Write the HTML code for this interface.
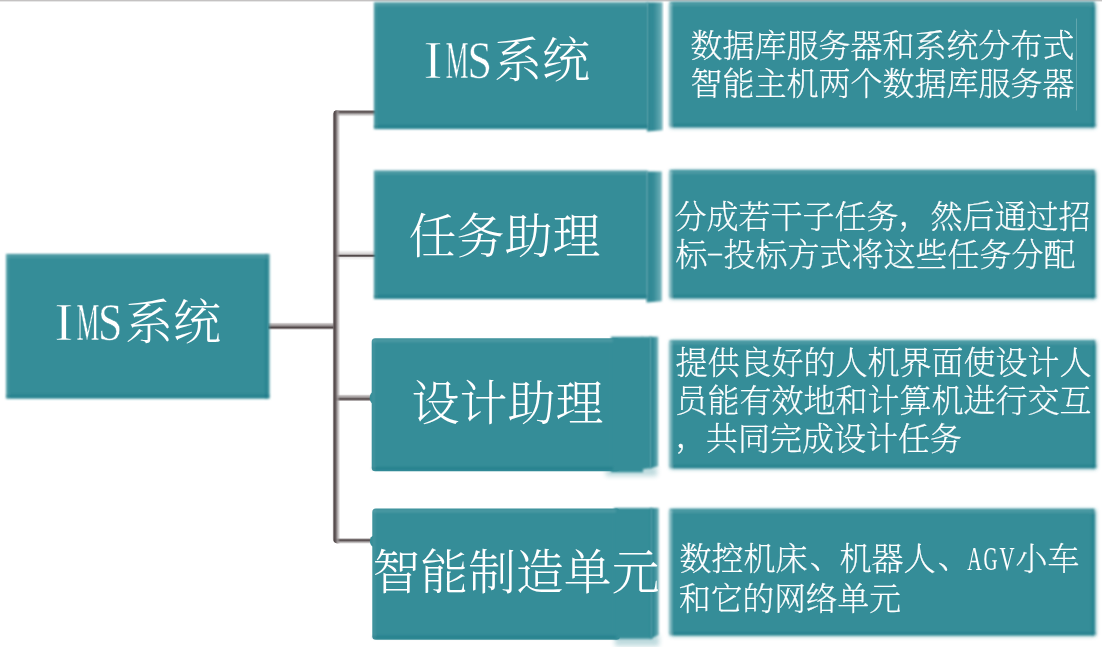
<!DOCTYPE html>
<html lang="zh-CN">
<head>
<meta charset="utf-8">
<title>IMS系统</title>
<style>
html,body{margin:0;padding:0;background:#fff;}
body{width:1102px;height:647px;overflow:hidden;position:relative;}
svg{display:block;position:absolute;left:0;top:0;}
.cj{font-family:"Liberation Serif","Noto Serif CJK SC",serif;fill:#fff;font-weight:300;}
.la{font-family:"Liberation Serif","Noto Serif CJK SC",serif;fill:#fff;font-weight:400;stroke:#358d98;stroke-width:0.5px;}
.big{font-size:48px;}
.sm{font-size:32px;font-weight:200;stroke:#fff;stroke-width:0.3px;}
</style>
</head>
<body>
<svg width="1102" height="647" viewBox="0 0 1102 647">
<defs>
<filter id="soft" x="-5%" y="-5%" width="110%" height="110%"><feGaussianBlur stdDeviation="1.1"/></filter>
<filter id="softbox" x="-5%" y="-5%" width="110%" height="112%"><feGaussianBlur in="SourceGraphic" stdDeviation="1" result="a"/><feGaussianBlur in="SourceGraphic" stdDeviation="1.9" result="b"/><feOffset in="b" dx="1.1" dy="1.1" result="c"/><feMerge><feMergeNode in="c"/><feMergeNode in="a"/></feMerge></filter>
<filter id="soft2" x="-5%" y="-5%" width="110%" height="110%"><feGaussianBlur stdDeviation="0.9"/></filter>
<filter id="softl" x="-20%" y="-20%" width="140%" height="140%"><feGaussianBlur stdDeviation="0.55"/></filter>
<filter id="softh" x="-20%" y="-20%" width="140%" height="140%"><feGaussianBlur stdDeviation="0.9"/></filter>
<filter id="shad" x="-20%" y="-60%" width="140%" height="220%"><feGaussianBlur stdDeviation="2.4"/></filter>
<clipPath id="cl"><rect x="332.800" y="110.200" width="60" height="433.200" rx="4.500"/></clipPath>
<linearGradient id="gV" x1="0" y1="0" x2="1" y2="0">
<stop offset="0" stop-color="#6b6263" stop-opacity="0"/><stop offset="0.2" stop-color="#6b6263" stop-opacity="0.8"/><stop offset="0.34" stop-color="#4f4546"/><stop offset="0.5" stop-color="#6f6667" stop-opacity="0.97"/><stop offset="0.72" stop-color="#a09a9b" stop-opacity="0.75"/><stop offset="1" stop-color="#a09a9b" stop-opacity="0"/>
</linearGradient>
<linearGradient id="gA" x1="0" y1="0" x2="0" y2="1">
<stop offset="0" stop-color="#5f5556" stop-opacity="0"/><stop offset="0.22" stop-color="#5f5556" stop-opacity="0.85"/><stop offset="0.36" stop-color="#524849"/><stop offset="0.6" stop-color="#8a8485" stop-opacity="0.8"/><stop offset="0.8" stop-color="#aaa5a5" stop-opacity="0.45"/><stop offset="1" stop-color="#aaa5a5" stop-opacity="0"/>
</linearGradient>
<linearGradient id="gB" x1="0" y1="0" x2="0" y2="1">
<stop offset="0" stop-color="#b5b0b0" stop-opacity="0"/><stop offset="0.2" stop-color="#b5b0b0" stop-opacity="0.8"/><stop offset="0.5" stop-color="#857e7f" stop-opacity="0.95"/><stop offset="0.66" stop-color="#473d3e"/><stop offset="0.82" stop-color="#5a5051" stop-opacity="0.7"/><stop offset="1" stop-color="#5a5051" stop-opacity="0"/>
</linearGradient>
<linearGradient id="gC" x1="0" y1="0" x2="0" y2="1">
<stop offset="0" stop-color="#d5d2d2" stop-opacity="0"/><stop offset="0.25" stop-color="#d5d2d2" stop-opacity="0.7"/><stop offset="0.4" stop-color="#c0bcbc" stop-opacity="0.8"/><stop offset="0.5" stop-color="#4f4647"/><stop offset="0.6" stop-color="#4f4647" stop-opacity="0.95"/><stop offset="0.72" stop-color="#d8d5d5" stop-opacity="0.5"/><stop offset="1" stop-color="#d8d5d5" stop-opacity="0"/>
</linearGradient>
<linearGradient id="strip" x1="0" y1="0" x2="1" y2="0">
<stop offset="0" stop-color="#2f8793"/><stop offset="0.45" stop-color="#348b97"/><stop offset="1" stop-color="#74b3bb"/>
</linearGradient>
</defs>
<rect x="0" y="0" width="1102" height="647" fill="#ffffff"/>
<rect x="0" y="0" width="1102" height="1.4" fill="#c4c2c2"/>

<rect x="268" y="322.300" width="67.500" height="7.600" fill="url(#gB)"/>
<g clip-path="url(#cl)">
<rect x="334" y="109.300" width="42" height="7.400" fill="url(#gA)"/>
<rect x="334" y="538" width="40" height="6.400" fill="url(#gA)"/>
<rect x="335" y="394.200" width="38" height="7.200" fill="url(#gB)"/>
<rect x="335" y="250" width="41" height="10.500" fill="url(#gC)"/>
<rect x="331.800" y="109.300" width="8.400" height="435" fill="url(#gV)"/>
</g>
<ellipse cx="373.300" cy="397.800" rx="3.600" ry="5.800" fill="#358d98" filter="url(#softl)"/>
<ellipse cx="373.500" cy="541.200" rx="3.600" ry="5.500" fill="#358d98" filter="url(#softl)"/>

<g fill="#358d98" opacity="0.32" filter="url(#shad)">
<rect x="606" y="467" width="51" height="9"/>
<rect x="615" y="635" width="44" height="11"/>
</g>
<g fill="#358d98">
<rect x="669.8" y="2" width="424.5" height="124.4" filter="url(#softbox)"/>
<rect x="669.8" y="170.2" width="424.7" height="127.2" filter="url(#softbox)"/>
<rect x="669.8" y="340.5" width="425.2" height="126.9" filter="url(#softbox)"/>
<rect x="669.8" y="509" width="424.5" height="125.5" filter="url(#softbox)"/>
</g>
<g fill="#358d98" filter="url(#softl)">
<rect x="371.7" y="338.3" width="248.3" height="132.9" rx="3.5"/>
<rect x="372.3" y="508.6" width="247.7" height="131.2" rx="3.5"/>
</g>
<g fill="#358d98" filter="url(#soft)">
<rect x="6.2" y="254" width="263.3" height="144.7"/>
<rect x="374" y="2.3" width="274" height="126.8"/>
<rect x="374" y="170.6" width="273.5" height="128.4"/>
<rect x="611" y="336.8" width="32" height="135.4"/>
<path d="M641 336.800 H651 V468.300 L641 469.500 Z"/>
<rect x="614" y="508" width="38" height="130.8"/>
</g>
<g fill="url(#strip)" filter="url(#soft2)">
<path d="M647 2.300 H662.600 V130.300 L647 131.400 Z"/>
<path d="M646.500 171.600 H661.800 V301.300 L646.500 302.500 Z"/>
<path d="M650 336.800 H658.200 V466.300 L650 468.500 Z"/>
<path d="M650.600 508 H658.800 V635 L650.600 638.800 Z"/>
</g>
<g filter="url(#soft2)">
<rect x="6.2" y="254.5" width="263.3" height="3.5" fill="#ffffff" opacity="0.10"/>
<rect x="6.7" y="254" width="2.5" height="144.7" fill="#ffffff" opacity="0.07"/>
<rect x="6.2" y="394.7" width="263.3" height="2.5" fill="#0d6876" opacity="0.30"/>
<rect x="265" y="254" width="2" height="144.7" fill="#0d6876" opacity="0.25"/>
<rect x="669.8" y="2.5" width="426.5" height="3.5" fill="#ffffff" opacity="0.10"/>
<rect x="670.3" y="2" width="2.5" height="126.2" fill="#ffffff" opacity="0.07"/>
<rect x="669.8" y="124.2" width="426.5" height="2.5" fill="#0d6876" opacity="0.30"/>
<rect x="1091.8" y="2" width="2" height="126.2" fill="#0d6876" opacity="0.25"/>
<rect x="669" y="3" width="3" height="124.2" fill="#ffffff" opacity="0.32"/>
<rect x="669.8" y="170.7" width="426.7" height="3.5" fill="#ffffff" opacity="0.10"/>
<rect x="670.3" y="170.2" width="2.5" height="129" fill="#ffffff" opacity="0.07"/>
<rect x="669.8" y="295.2" width="426.7" height="2.5" fill="#0d6876" opacity="0.30"/>
<rect x="1092" y="170.2" width="2" height="129" fill="#0d6876" opacity="0.25"/>
<rect x="669" y="171.2" width="3" height="127" fill="#ffffff" opacity="0.32"/>
<rect x="669.8" y="341" width="427.2" height="3.5" fill="#ffffff" opacity="0.10"/>
<rect x="670.3" y="340.5" width="2.5" height="128.7" fill="#ffffff" opacity="0.07"/>
<rect x="669.8" y="465.2" width="427.2" height="2.5" fill="#0d6876" opacity="0.30"/>
<rect x="1092.5" y="340.5" width="2" height="128.7" fill="#0d6876" opacity="0.25"/>
<rect x="669" y="341.5" width="3" height="126.7" fill="#ffffff" opacity="0.32"/>
<rect x="669.8" y="509.5" width="426.5" height="3.5" fill="#ffffff" opacity="0.10"/>
<rect x="670.3" y="509" width="2.5" height="127.3" fill="#ffffff" opacity="0.07"/>
<rect x="669.8" y="632.3" width="426.5" height="2.5" fill="#0d6876" opacity="0.30"/>
<rect x="1091.8" y="509" width="2" height="127.3" fill="#0d6876" opacity="0.25"/>
<rect x="669" y="510" width="3" height="125.3" fill="#ffffff" opacity="0.32"/>
<rect x="374" y="2.8" width="274" height="3.5" fill="#ffffff" opacity="0.10"/>
<rect x="374.5" y="2.3" width="2.5" height="126.8" fill="#ffffff" opacity="0.07"/>
<rect x="374" y="125.1" width="274" height="2.5" fill="#0d6876" opacity="0.30"/>
<rect x="374" y="171.1" width="273.5" height="3.5" fill="#ffffff" opacity="0.10"/>
<rect x="374.5" y="170.6" width="2.5" height="128.4" fill="#ffffff" opacity="0.07"/>
<rect x="374" y="295" width="273.5" height="2.5" fill="#0d6876" opacity="0.30"/>
<rect x="371.7" y="338.8" width="241.3" height="3.5" fill="#ffffff" opacity="0.10"/>
<rect x="372.2" y="338.3" width="2.5" height="132.9" fill="#ffffff" opacity="0.07"/>
<rect x="371.7" y="467.2" width="241.3" height="2.5" fill="#0d6876" opacity="0.30"/>
<rect x="372.3" y="509.1" width="243.7" height="3.5" fill="#ffffff" opacity="0.10"/>
<rect x="372.8" y="508.6" width="2.5" height="131.2" fill="#ffffff" opacity="0.07"/>
<rect x="372.3" y="635.8" width="243.7" height="2.5" fill="#0d6876" opacity="0.30"/>
</g>
<path d="M1076.500 18.500 V110.500" stroke="#ffffff" stroke-opacity="0.22" stroke-width="1" fill="none"/>
<g class="cj big">
<text class="la" x="423.800" y="78" font-size="52"><tspan textLength="18.6" lengthAdjust="spacingAndGlyphs" stroke-width="0.7">I</tspan><tspan dx="3.3" textLength="22.7" lengthAdjust="spacingAndGlyphs">M</tspan><tspan dx="-1" textLength="24.5" lengthAdjust="spacingAndGlyphs">S</tspan></text>
<text x="494" y="77">系统</text>
<text class="la" x="54.500" y="340" font-size="52"><tspan textLength="18.6" lengthAdjust="spacingAndGlyphs" stroke-width="0.7">I</tspan><tspan dx="3.3" textLength="22.7" lengthAdjust="spacingAndGlyphs">M</tspan><tspan dx="-1" textLength="24.5" lengthAdjust="spacingAndGlyphs">S</tspan></text>
<text x="125" y="339">系统</text>
<text x="408.500" y="252.500">任务助理</text>
<text x="411.500" y="420">设计助理</text>
<text x="372.500" y="588.500" textLength="287" lengthAdjust="spacingAndGlyphs">智能制造单元</text>
</g>
<g class="cj sm">
<text x="690.500" y="57">数据库服务器和系统分布式</text>
<text x="690.500" y="95">智能主机两个数据库服务器</text>
<text x="674.500" y="227.500">分成若干子任务<tspan dy="-2.5">，</tspan><tspan dy="2.5">然后通过招</tspan></text>
<text x="675.500" y="266">标<tspan class="hy" dx="-1" dy="-7.2" font-size="16" textLength="17" lengthAdjust="spacingAndGlyphs">-</tspan><tspan x="723.500" y="266">投标方式将这些任务分配</tspan></text>
<text x="675.500" y="374">提供良好的人机界面使设计人</text>
<text x="675.500" y="412">员能有效地和计算机进行交互</text>
<text x="675.500" y="447">，<tspan dx="-1.500" dy="3">共同完成设计任务</tspan></text>
<text x="679.500" y="570">数控机床<tspan dx="2.500" dy="-2">、</tspan><tspan dx="-2.500" dy="2">机器人</tspan><tspan dx="2.500" dy="-2">、</tspan></text>
<text class="la" x="967.300" y="570" font-size="33.500" style="stroke:none"><tspan textLength="14.5" lengthAdjust="spacingAndGlyphs">A</tspan><tspan dx="1.6" textLength="14" lengthAdjust="spacingAndGlyphs">G</tspan><tspan dx="2.2" textLength="15" lengthAdjust="spacingAndGlyphs">V</tspan></text>
<text x="1015.500" y="570">小车</text>
<text x="679" y="609.500" textLength="222" lengthAdjust="spacingAndGlyphs">和它的网络单元</text>
</g>
</svg>
</body>
</html>
